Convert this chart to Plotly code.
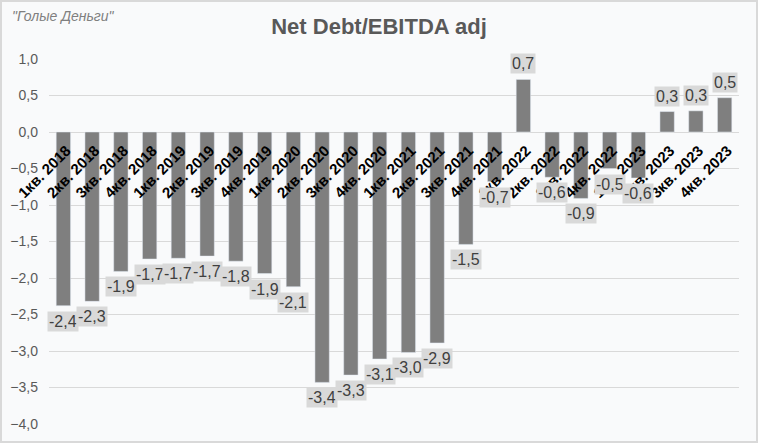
import plotly.graph_objects as go

categories = [
    "1кв. 2018", "2кв. 2018", "3кв. 2018", "4кв. 2018",
    "1кв. 2019", "2кв. 2019", "3кв. 2019", "4кв. 2019",
    "1кв. 2020", "2кв. 2020", "3кв. 2020", "4кв. 2020",
    "1кв. 2021", "2кв. 2021", "3кв. 2021", "4кв. 2021",
    "1кв. 2022", "2кв. 2022", "3кв. 2022", "4кв. 2022",
    "1кв. 2023", "2кв. 2023", "3кв. 2023", "4кв. 2023",
]
values = [
    -2.38, -2.32, -1.91, -1.74,
    -1.73, -1.70, -1.77, -1.94,
    -2.12, -3.43, -3.33, -3.11,
    -3.02, -2.89, -1.54, -0.68,
    0.72, -0.62, -0.91, -0.50,
    -0.63, 0.28, 0.29, 0.47,
]
y_ticks = [1.0, 0.5, 0.0, -0.5, -1.0, -1.5, -2.0, -2.5, -3.0, -3.5, -4.0]

FONT = "Arial, 'Liberation Sans', sans-serif"
BG = "#f9fafb"

fig = go.Figure()
fig.add_trace(go.Bar(
    x=categories, y=values, marker_color="#7f7f7f", width=0.5,
    hoverinfo="x+y",
))

labels = [f"{v:.1f}".replace(".", ",") for v in values]
for c, v, t in zip(categories, values, labels):
    fig.add_annotation(
        x=c, y=v, text=t, showarrow=False,
        yanchor="top" if v < 0 else "bottom",
        yshift=-5 if v < 0 else 5,
        bgcolor="#d9d9d9", borderpad=1,
        font=dict(family=FONT, size=16, color="#404040"),
    )

fig.add_annotation(
    xref="paper", yref="paper", x=-49 / 690, y=1 + (59 - 16) / 365,
    xanchor="left", yanchor="middle", xshift=10,
    text="\"Голые Деньги\"", showarrow=False,
    font=dict(family=FONT, size=14, color="#7f7f7f", style="italic"),
)

fig.add_shape(
    type="rect", xref="paper", yref="paper",
    x0=-48 / 690, x1=1 + 18 / 690, y0=-18 / 365, y1=1 + 58 / 365,
    line=dict(color="#d9d9d9", width=2), fillcolor="rgba(0,0,0,0)", layer="below",
)

fig.update_layout(
    width=758, height=443,
    margin=dict(l=49, r=19, t=59, b=19),
    paper_bgcolor=BG, plot_bgcolor=BG,
    separators=", ",
    showlegend=False,
    title=dict(
        text="<b>Net Debt/EBITDA adj</b>", x=0.5, xanchor="center",
        y=1 - 26 / 443, yanchor="middle",
        font=dict(family=FONT, size=22, color="#595959"),
    ),
    xaxis=dict(
        type="category", anchor="free", position=0.8,
        showgrid=False, showline=False, zeroline=False,
        tickangle=-45, automargin=False,
        ticklabelstandoff=6, ticklabelshift=3,
        tickfont=dict(family=FONT, size=15, color="#000000", weight="bold"),
        range=[-0.5, len(categories) - 0.5],
    ),
    yaxis=dict(
        range=[-4.0, 1.0], tickvals=y_ticks, tickformat=".1f",
        showgrid=True, gridcolor="#d9d9d9", gridwidth=1,
        zeroline=False, showline=False, automargin=False,
        ticklabelstandoff=10,
        tickfont=dict(family=FONT, size=14, color="#595959"),
    ),
)

fig.write_html(
    "out.html",
    config={"displayModeBar": False},
    post_script="document.body.style.margin='0';document.body.style.overflow='hidden';",
)
